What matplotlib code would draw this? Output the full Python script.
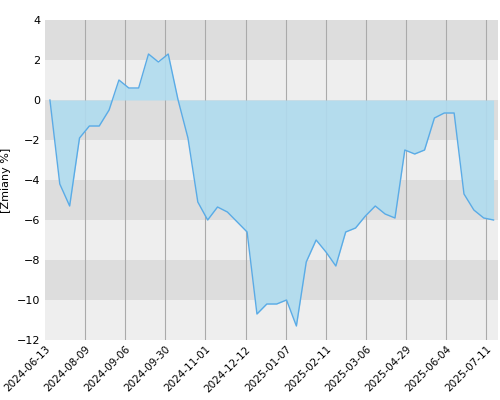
import matplotlib
matplotlib.use("Agg")
import matplotlib.pyplot as plt
import numpy as np

values = [0, -4.2, -5.3, -1.9, -1.3, -1.3, -0.5, 1.0, 0.6, 0.6,
          2.3, 1.9, 2.3, 0.0, -1.9, -5.1, -6.0, -5.35, -5.6, -6.1,
          -6.6, -10.7, -10.2, -10.2, -10.0, -11.3, -8.1, -7.0, -7.6, -8.3,
          -6.6, -6.4, -5.8, -5.3, -5.7, -5.9, -2.5, -2.7, -2.5, -0.9,
          -0.65, -0.65, -4.7, -5.5, -5.9, -6.0]
tick_labels = ["2024-06-13", "2024-08-09", "2024-09-06", "2024-09-30", "2024-11-01",
               "2024-12-12", "2025-01-07", "2025-02-11", "2025-03-06", "2025-04-29",
               "2025-06-04", "2025-07-11"]

fig = plt.figure(figsize=(5, 4), dpi=100)
ax = fig.add_axes([0.09, 0.15, 0.905, 0.80])
x = np.arange(len(values))
ax.set_xlim(-0.5, len(values) - 0.6)
ax.set_ylim(-12, 4)
for lo in range(-12, 4, 2):
    ax.axhspan(lo, lo + 2, color="#dddddd" if (lo // 2) % 2 != 0 else "#eeeeee", zorder=0, lw=0)
ticks = -0.5 + 4.07 * np.arange(len(tick_labels))
ax.set_xticks(ticks)
ax.set_xticklabels(tick_labels, rotation=45, ha="right", rotation_mode="anchor", fontsize=7.5)
for t in ticks[1:]:
    ax.axvline(t, color="#aaaaaa", lw=0.8, zorder=1)
ax.fill_between(x, 0, values, color="#b0dcef", alpha=0.9, zorder=2, lw=0)
ax.plot(x, values, color="#5aabe6", lw=1, zorder=3)
ax.set_yticks(range(-12, 5, 2))
ax.tick_params(axis="y", labelsize=8, length=0)
ax.tick_params(axis="x", length=0, pad=3)
ax.set_ylabel("[Zmiany %]", fontsize=8)
for s in ax.spines.values():
    s.set_visible(False)
fig.savefig("out.png")
